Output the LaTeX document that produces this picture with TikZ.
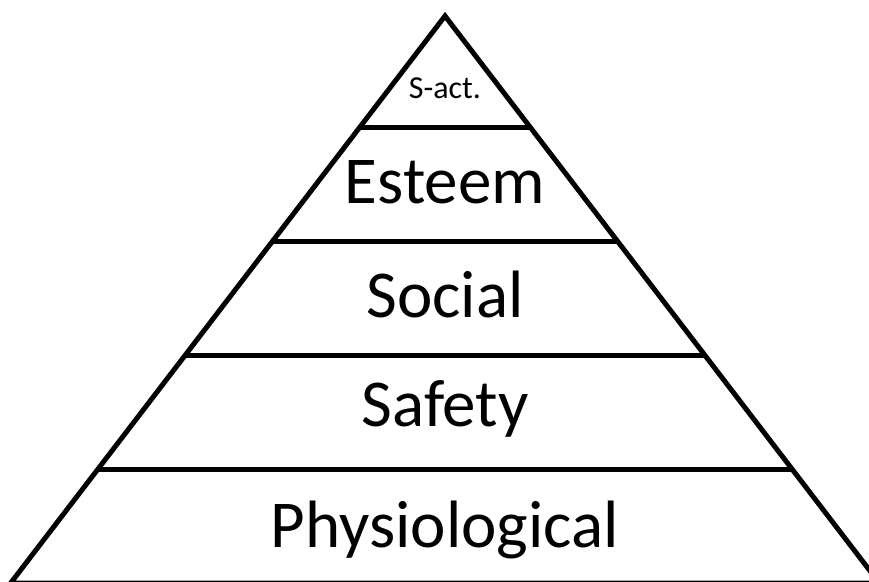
\documentclass[tikz,border=0pt]{standalone}
\usepackage{fontspec}
\setmainfont{Carlito}
\tikzset{
  level/.style={anchor=base, inner sep=0pt, font=\fontsize{67}{67}\selectfont},
  tier/.style={line width=5pt, line join=miter}
}
\begin{document}
\begin{tikzpicture}[x=1pt, y=-1pt]
  \useasboundingbox (0,0) rectangle (869,581);
  \draw
    (445,16) coordinate (apex)
    (10.7,583) coordinate (bl)
    (879.3,583) coordinate (br)
    (360,127) coordinate (l1) (530,127) coordinate (r1)
    (272.6,241) coordinate (l2) (617.4,241) coordinate (r2)
    (185.3,355) coordinate (l3) (704.7,355) coordinate (r3)
    (98,469) coordinate (l4) (792,469) coordinate (r4);
  \begin{scope}[tier]
    \draw (apex) -- (bl) -- (br) -- cycle;
    \draw (l1) -- (r1);
    \draw (l2) -- (r2);
    \draw (l3) -- (r3);
    \draw (l4) -- (r4);
  \end{scope}
  \node[level, font=\fontsize{32}{32}\selectfont] (sact) at (445,98) {S-act.};
  \node[level] (esteem) at (445,203) {Esteem};
  \node[level] (social) at (445,317) {Social};
  \node[level] (safety) at (445,426) {Safety};
  \node[level] (physio) at (445,547) {Physiological};
\end{tikzpicture}
\end{document}
